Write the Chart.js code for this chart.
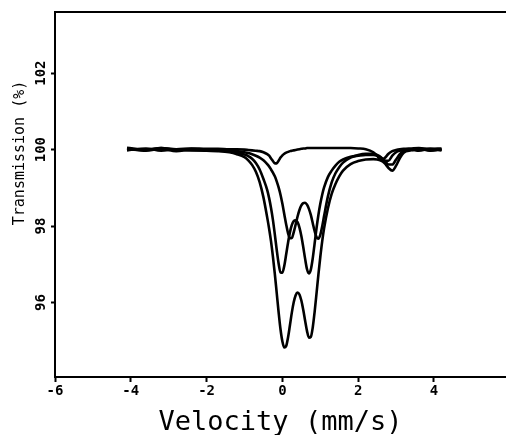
<!DOCTYPE html>
<html>
<head>
<meta charset="utf-8">
<script src="https://cdn.jsdelivr.net/npm/chart.js@4/dist/chart.umd.min.js"></script>
<style>
  html, body { margin: 0; padding: 0; background: #fff; }
  canvas { display: block; }
</style>
</head>
<body>
<canvas id="c" width="506" height="435"></canvas>
<script>
// Source velocity (mm/s) for every measured point
const velocity = [-4.1,-3.6,-3.2,-2.8,-2.4,-2.0,-1.7,-1.4,-1.2,-1.0,-0.9,-0.8,-0.7,-0.6,-0.5,-0.4,-0.35,-0.3,-0.25,-0.2,-0.15,-0.1,-0.05,
  0,0.05,0.1,0.15,0.2,0.25,0.3,0.35,0.4,0.45,0.5,0.55,0.6,0.65,0.7,0.75,0.8,0.85,0.9,0.95,1.0,1.05,1.1,
  1.2,1.3,1.4,1.5,1.6,1.8,2.0,2.2,2.4,2.5,2.6,2.7,2.8,2.9,3.0,3.1,3.2,3.4,3.6,3.9,4.2];

// Transmission (%) of the four spectra
const spectrumA = [100.05,100.0,100.04,100.01,100.03,100.02,100.02,100.01,100.01,100.0,99.99,99.98,99.97,99.96,99.93,99.88,99.84,99.77,99.70,99.64,99.64,99.71,99.79,
  99.85,99.89,99.92,99.94,99.96,99.97,99.98,99.99,100.0,100.01,100.02,100.03,100.03,100.04,100.04,100.04,100.04,100.04,100.04,100.04,100.04,100.04,100.04,
  100.04,100.04,100.04,100.04,100.04,100.04,100.03,100.01,99.93,99.84,99.72,99.78,99.89,99.96,99.99,100.01,100.02,100.03,100.04,100.02,100.03];

const spectrumB = [100.0,99.99,100.04,99.99,100.02,99.99,99.98,99.97,99.96,99.93,99.91,99.88,99.84,99.79,99.72,99.62,99.56,99.48,99.40,99.30,99.17,99.01,98.82,
  98.58,98.31,98.04,97.81,97.68,97.69,97.84,98.04,98.25,98.42,98.54,98.60,98.61,98.56,98.45,98.29,98.08,97.87,97.71,97.67,97.77,97.99,98.26,
  98.77,99.14,99.38,99.54,99.66,99.79,99.86,99.89,99.89,99.86,99.80,99.71,99.71,99.84,99.93,99.97,99.99,100.0,100.02,99.98,100.0];

const spectrumC = [99.98,100.03,99.97,100.01,99.98,99.98,99.97,99.95,99.92,99.87,99.83,99.76,99.65,99.48,99.23,98.94,98.73,98.47,98.16,97.78,97.38,97.02,96.79,
  96.78,96.96,97.26,97.57,97.84,98.03,98.13,98.15,98.10,97.96,97.74,97.45,97.14,96.87,96.76,96.86,97.15,97.54,97.94,98.29,98.58,98.82,99.01,
  99.28,99.45,99.58,99.68,99.74,99.81,99.84,99.86,99.86,99.84,99.79,99.71,99.61,99.61,99.74,99.88,99.96,100.0,99.97,100.02,99.98];

const spectrumD = [100.03,99.97,100.02,99.96,99.99,99.97,99.96,99.93,99.88,99.80,99.72,99.60,99.42,99.15,98.75,98.22,97.93,97.60,97.20,96.75,96.25,95.75,95.30,
  94.98,94.82,94.86,95.09,95.41,95.74,96.01,96.19,96.26,96.21,96.05,95.81,95.52,95.25,95.08,95.10,95.34,95.75,96.23,96.73,97.19,97.60,97.94,
  98.46,98.84,99.10,99.30,99.45,99.62,99.70,99.74,99.75,99.74,99.71,99.64,99.52,99.45,99.58,99.78,99.92,99.98,100.02,99.97,100.01];

const xTicks = [-6, -4, -2, 0, 2, 4];
const yTicks = [96, 98, 100, 102];

const series = [spectrumA, spectrumB, spectrumC, spectrumD];

const monoFont = 'DejaVu Sans Mono';

// Rotated y-axis caption, drawn beside the axis
const yCaption = {
  id: 'yCaption',
  afterDraw(chart) {
    const { ctx, chartArea } = chart;
    ctx.save();
    ctx.font = '15px "' + monoFont + '"';
    ctx.fillStyle = '#000';
    ctx.textAlign = 'center';
    ctx.textBaseline = 'middle';
    ctx.translate(20, chartArea.top + 141);
    ctx.rotate(-Math.PI / 2);
    ctx.fillText('Transmission (%)', 0, 0);
    ctx.restore();
  }
};

new Chart(document.getElementById('c'), {
  type: 'line',
  data: {
    datasets: series.map(s => ({
      data: velocity.map((v, i) => ({ x: v, y: s[i] })),
      borderColor: '#000',
      borderWidth: 2.6,
      pointRadius: 0,
      fill: false,
      cubicInterpolationMode: 'monotone'
    }))
  },
  options: {
    responsive: false,
    animation: false,
    devicePixelRatio: 1,
    layout: { padding: 0 },
    plugins: { legend: { display: false }, tooltip: { enabled: false } },
    scales: {
      x: {
        type: 'linear',
        position: 'bottom',
        min: -6,
        max: 5.9,
        afterBuildTicks: s => { s.ticks = xTicks.map(v => ({ value: v })); },
        afterFit: s => { s.height = 58; },
        grid: { drawOnChartArea: false, tickLength: 5, tickColor: '#000', tickWidth: 2 },
        border: { display: true, color: '#000', width: 2 },
        ticks: {
          autoSkip: false, maxRotation: 0, padding: 1, color: '#000',
          font: { family: monoFont, weight: 'bold', size: 14 }
        },
        title: {
          display: true, text: 'Velocity (mm/s)', color: '#000', padding: 0,
          font: { family: monoFont, size: 27, lineHeight: 0.9 }
        }
      },
      xTop: {
        type: 'linear',
        position: 'top',
        min: -6,
        max: 5.9,
        afterFit: s => { s.height = 12; },
        ticks: { display: false },
        grid: { display: false },
        border: { display: true, color: '#000', width: 2 }
      },
      y: {
        type: 'linear',
        position: 'left',
        min: 94.05,
        max: 103.6,
        afterBuildTicks: s => { s.ticks = yTicks.map(v => ({ value: v })); },
        afterFit: s => { s.width = 55; },
        grid: { drawOnChartArea: false, tickLength: 4, tickColor: '#000', tickWidth: 2 },
        border: { display: true, color: '#000', width: 2 },
        ticks: {
          minRotation: 90, maxRotation: 90, crossAlign: 'center', padding: -3, color: '#000',
          font: { family: monoFont, weight: 'bold', size: 14 }
        }
      }
    }
  },
  plugins: [yCaption]
});
</script>
</body>
</html>
